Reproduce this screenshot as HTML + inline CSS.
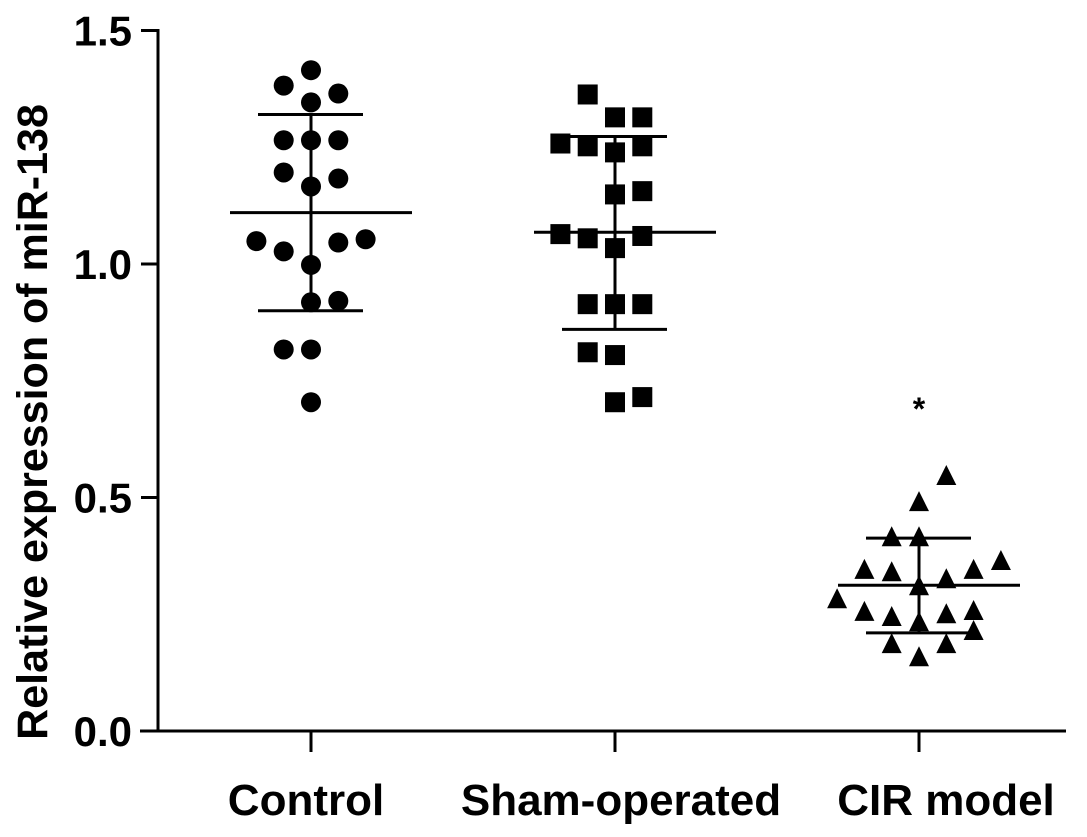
<!DOCTYPE html>
<html><head><meta charset="utf-8"><style>
body{margin:0;background:#fff}
svg{display:block;font-family:"Liberation Sans",Arial,sans-serif;font-weight:bold}
</style></head><body>
<svg id="chart" width="1087" height="837" viewBox="0 0 1087 837"></svg>
<script>
const categories=["Control","Sham-operated","CIR model"];
const controlValues=[1.415,1.382,1.365,1.346,1.265,1.265,1.265,1.196,1.183,1.166,1.049,1.027,1.046,1.053,0.998,0.918,0.921,0.817,0.817,0.704];
const controlJitter=[0,-1,1,0,-1,0,1,-1,1,0,-2,-1,1,2,0,0,1,-1,0,0];
const shamValues=[1.363,1.314,1.314,1.258,1.252,1.239,1.252,1.149,1.156,1.064,1.055,1.060,1.034,0.914,0.914,0.914,0.811,0.805,0.704,0.715];
const shamJitter=[-1,0,1,-2,-1,0,1,0,1,-2,-1,1,0,-1,0,1,-1,0,0,1];
const cirValues=[0.546,0.490,0.415,0.415,0.345,0.340,0.325,0.345,0.364,0.282,0.310,0.255,0.244,0.233,0.250,0.257,0.214,0.186,0.186,0.158];
const cirJitter=[1,0,-1,0,-2,-1,1,2,3,-3,0,-2,-1,0,1,2,2,-1,1,0];
const means=[1.11,1.068,0.312];
const sdUpper=[1.32,1.273,0.413];
const sdLower=[0.90,0.86,0.21];
const yTicks=[0,0.5,1.0,1.5];
const yTickLabels=["0.0","0.5","1.0","1.5"];

const NS="http://www.w3.org/2000/svg";
const svg=document.getElementById('chart');
const y=v=>731-v*467;
const x=i=>311+i*304;
const jx=(i,j)=>x(i)+j*27.3;
const labelShift=[-5,6,27];
function el(t,a){const e=document.createElementNS(NS,t);for(const k in a)e.setAttribute(k,a[k]);svg.appendChild(e);return e;}

let e=el('line',{x1:158,y1:29,x2:158,y2:732,stroke:'#000','stroke-width':3});


e=el('line',{x1:140,y1:731,x2:1066,y2:731,stroke:'#000','stroke-width':3});


yTicks.forEach((v,k)=>{
  let t=el('line',{x1:141,y1:y(v),x2:158,y2:y(v),stroke:'#000','stroke-width':3});
  
  
  let l=el('text',{x:132,y:y(v)+15,'text-anchor':'end','font-size':42});
  l.textContent=yTickLabels[k];
  
  
});
categories.forEach((c,i)=>{
  let t=el('line',{x1:x(i),y1:731,x2:x(i),y2:752,stroke:'#000','stroke-width':3});
  
  
  let l=el('text',{x:x(i)+labelShift[i],y:815,'text-anchor':'middle','font-size':44});
  l.textContent=c;
  
  
});
let yt=el('text',{x:0,y:0,'text-anchor':'middle','font-size':43,transform:'translate(47,422) rotate(-90)'});
yt.textContent='Relative expression of miR-138';



function mark(i,j,v,shape){
  const cx=jx(i,j),cy=y(v);let m;
  if(shape==0)m=el('circle',{cx:cx,cy:cy,r:10,fill:'#000'});
  else if(shape==1)m=el('rect',{x:cx-10,y:cy-10,width:20,height:20,fill:'#000'});
  else m=el('polygon',{points:`${cx},${cy-11} ${cx-10},${cy+9} ${cx+10},${cy+9}`,fill:'#000'});
  
  
}
[[controlValues,controlJitter],[shamValues,shamJitter],[cirValues,cirJitter]].forEach(([vals,jit],i)=>{
  vals.forEach((v,k)=>mark(i,jit[k],v,i));
});
categories.forEach((c,i)=>{
  let a=el('line',{x1:x(i),y1:y(sdUpper[i]),x2:x(i),y2:y(sdLower[i]),stroke:'#000','stroke-width':3});
  
  
  let m=el('line',{x1:x(i)-81,y1:y(means[i]),x2:x(i)+101,y2:y(means[i]),stroke:'#000','stroke-width':3});
  
  
  [sdUpper[i],sdLower[i]].forEach(s=>{
    let l=el('line',{x1:x(i)-53,y1:y(s),x2:x(i)+52,y2:y(s),stroke:'#000','stroke-width':3});
    
    
  });
});
let st=el('text',{x:x(2),y:420,'text-anchor':'middle','font-size':32});
st.textContent='*';


</script>
</body></html>
